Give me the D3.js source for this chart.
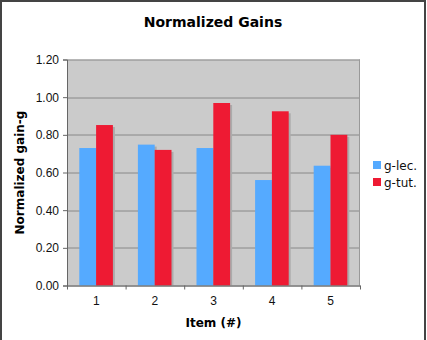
<!DOCTYPE html>
<html>
<head>
<meta charset="utf-8">
<script src="https://cdn.jsdelivr.net/npm/d3@7"></script>
<style>
  body { margin: 0; background: #fff; }
  svg { display: block; font-family: "DejaVu Sans", Verdana, sans-serif; }
</style>
</head>
<body>
<div id="chart"></div>
<script>
// Normalized gains per item, lecture vs tutorial
const items = ["1", "2", "3", "4", "5"];
const gLec = [0.73, 0.748, 0.73, 0.56, 0.636];
const gTut = [0.852, 0.72, 0.969, 0.925, 0.80];
const yTicks = [0, 0.2, 0.4, 0.6, 0.8, 1.0, 1.2];
const seriesNames = ["g-lec.", "g-tut."];
const seriesColors = ["#55aaff", "#ee1a33"];

const width = 427, height = 340;
const margin = { top: 59.5, right: 67, bottom: 54.5, left: 67 };
const innerW = width - margin.left - margin.right;
const innerH = height - margin.top - margin.bottom;

const svg = d3.select("#chart").append("svg").attr("width", width).attr("height", height);

// outer frame
svg.append("rect")
  .attr("x", 1).attr("y", 1)
  .attr("width", 424).attr("height", 345)
  .attr("fill", "none").attr("stroke", "#444").attr("stroke-width", 2);

const g = svg.append("g").attr("transform", `translate(${margin.left},${margin.top})`);

const x = d3.scaleBand().domain(items).range([0, innerW]).paddingInner(0).paddingOuter(0);
const x1 = d3.scaleBand().domain([0, 1]).range([12.3, x.bandwidth() - 12.7]);
const y = d3.scaleLinear().domain([0, 1.2]).range([innerH, 0]);

g.append("rect").attr("width", innerW).attr("height", innerH).attr("fill", "#cbcbcb");

g.selectAll("line.grid")
  .data(yTicks)
  .join("line")
  .attr("class", "grid")
  .attr("x1", 0).attr("x2", innerW)
  .attr("y1", (d) => Math.round(y(d)) + 0.5).attr("y2", (d) => Math.round(y(d)) + 0.5)
  .attr("stroke", "#888").attr("stroke-width", 1);

// right edge of plot area
g.append("line")
  .attr("x1", innerW - 0.5).attr("x2", innerW - 0.5)
  .attr("y1", 0).attr("y2", innerH)
  .attr("stroke", "#999");

const data = items.map((item, i) => ({ item, values: [gLec[i], gTut[i]] }));

const groups = g.selectAll("g.group")
  .data(data)
  .join("g")
  .attr("class", "group")
  .attr("transform", (d) => `translate(${x(d.item)},0)`);

// soft shadow behind bars
groups.selectAll("rect.shadow")
  .data((d) => d.values.map((v, k) => ({ v, k })))
  .join("rect")
  .attr("class", "shadow")
  .attr("x", (d) => x1(d.k) + 2)
  .attr("y", (d) => y(d.v) + 2)
  .attr("width", x1.bandwidth())
  .attr("height", (d) => innerH - y(d.v) - 2)
  .attr("fill", "#ababab");

groups.selectAll("rect.bar")
  .data((d) => d.values.map((v, k) => ({ v, k })))
  .join("rect")
  .attr("class", "bar")
  .attr("x", (d) => x1(d.k))
  .attr("y", (d) => y(d.v))
  .attr("width", x1.bandwidth())
  .attr("height", (d) => innerH - y(d.v))
  .attr("fill", (d) => seriesColors[d.k]);

// axes
const yAxis = g.append("g")
  .call(d3.axisLeft(y).tickValues(yTicks).tickFormat(d3.format(".2f")).tickSize(4).tickPadding(4));
yAxis.select(".domain").attr("stroke", "#666");
yAxis.selectAll(".tick line").attr("stroke", "#666");
yAxis.selectAll("text").attr("font-size", 12).attr("fill", "#111");

const xAxis = g.append("g")
  .attr("transform", `translate(0,${innerH})`)
  .call(d3.axisBottom(x).tickSize(0).tickPadding(11));
xAxis.select(".domain").attr("stroke", "#666");
xAxis.selectAll("text").attr("font-size", 12).attr("fill", "#111");

// tick marks at band edges
g.selectAll("line.xtick")
  .data(items.concat(["end"]))
  .join("line")
  .attr("class", "xtick")
  .attr("x1", (d, i) => i * x.bandwidth() + 0.5)
  .attr("x2", (d, i) => i * x.bandwidth() + 0.5)
  .attr("y1", innerH).attr("y2", innerH + 4)
  .attr("stroke", "#666");

// titles
svg.append("text")
  .attr("x", 213).attr("y", 27)
  .attr("text-anchor", "middle")
  .attr("font-size", 14).attr("font-weight", "bold")
  .text("Normalized Gains");

svg.append("text")
  .attr("x", margin.left + innerW / 2).attr("y", 327)
  .attr("text-anchor", "middle")
  .attr("font-size", 12).attr("font-weight", "bold")
  .text("Item (#)");

svg.append("text")
  .attr("transform", `translate(24,${margin.top + innerH / 2}) rotate(-90)`)
  .attr("text-anchor", "middle")
  .attr("font-size", 12).attr("font-weight", "bold")
  .text("Normalized gain-g");

// legend
const legend = svg.append("g").attr("transform", "translate(373,165)");
legend.selectAll("g")
  .data(seriesNames)
  .join("g")
  .attr("transform", (d, i) => `translate(0,${i * 17})`)
  .each(function (d, i) {
    const row = d3.select(this);
    row.append("rect").attr("width", 8).attr("height", 8).attr("y", -4).attr("fill", seriesColors[i]);
    row.append("text").attr("x", 11).attr("y", 4.5).attr("font-size", 12).attr("fill", "#111").text(d);
  });
</script>
</body>
</html>
